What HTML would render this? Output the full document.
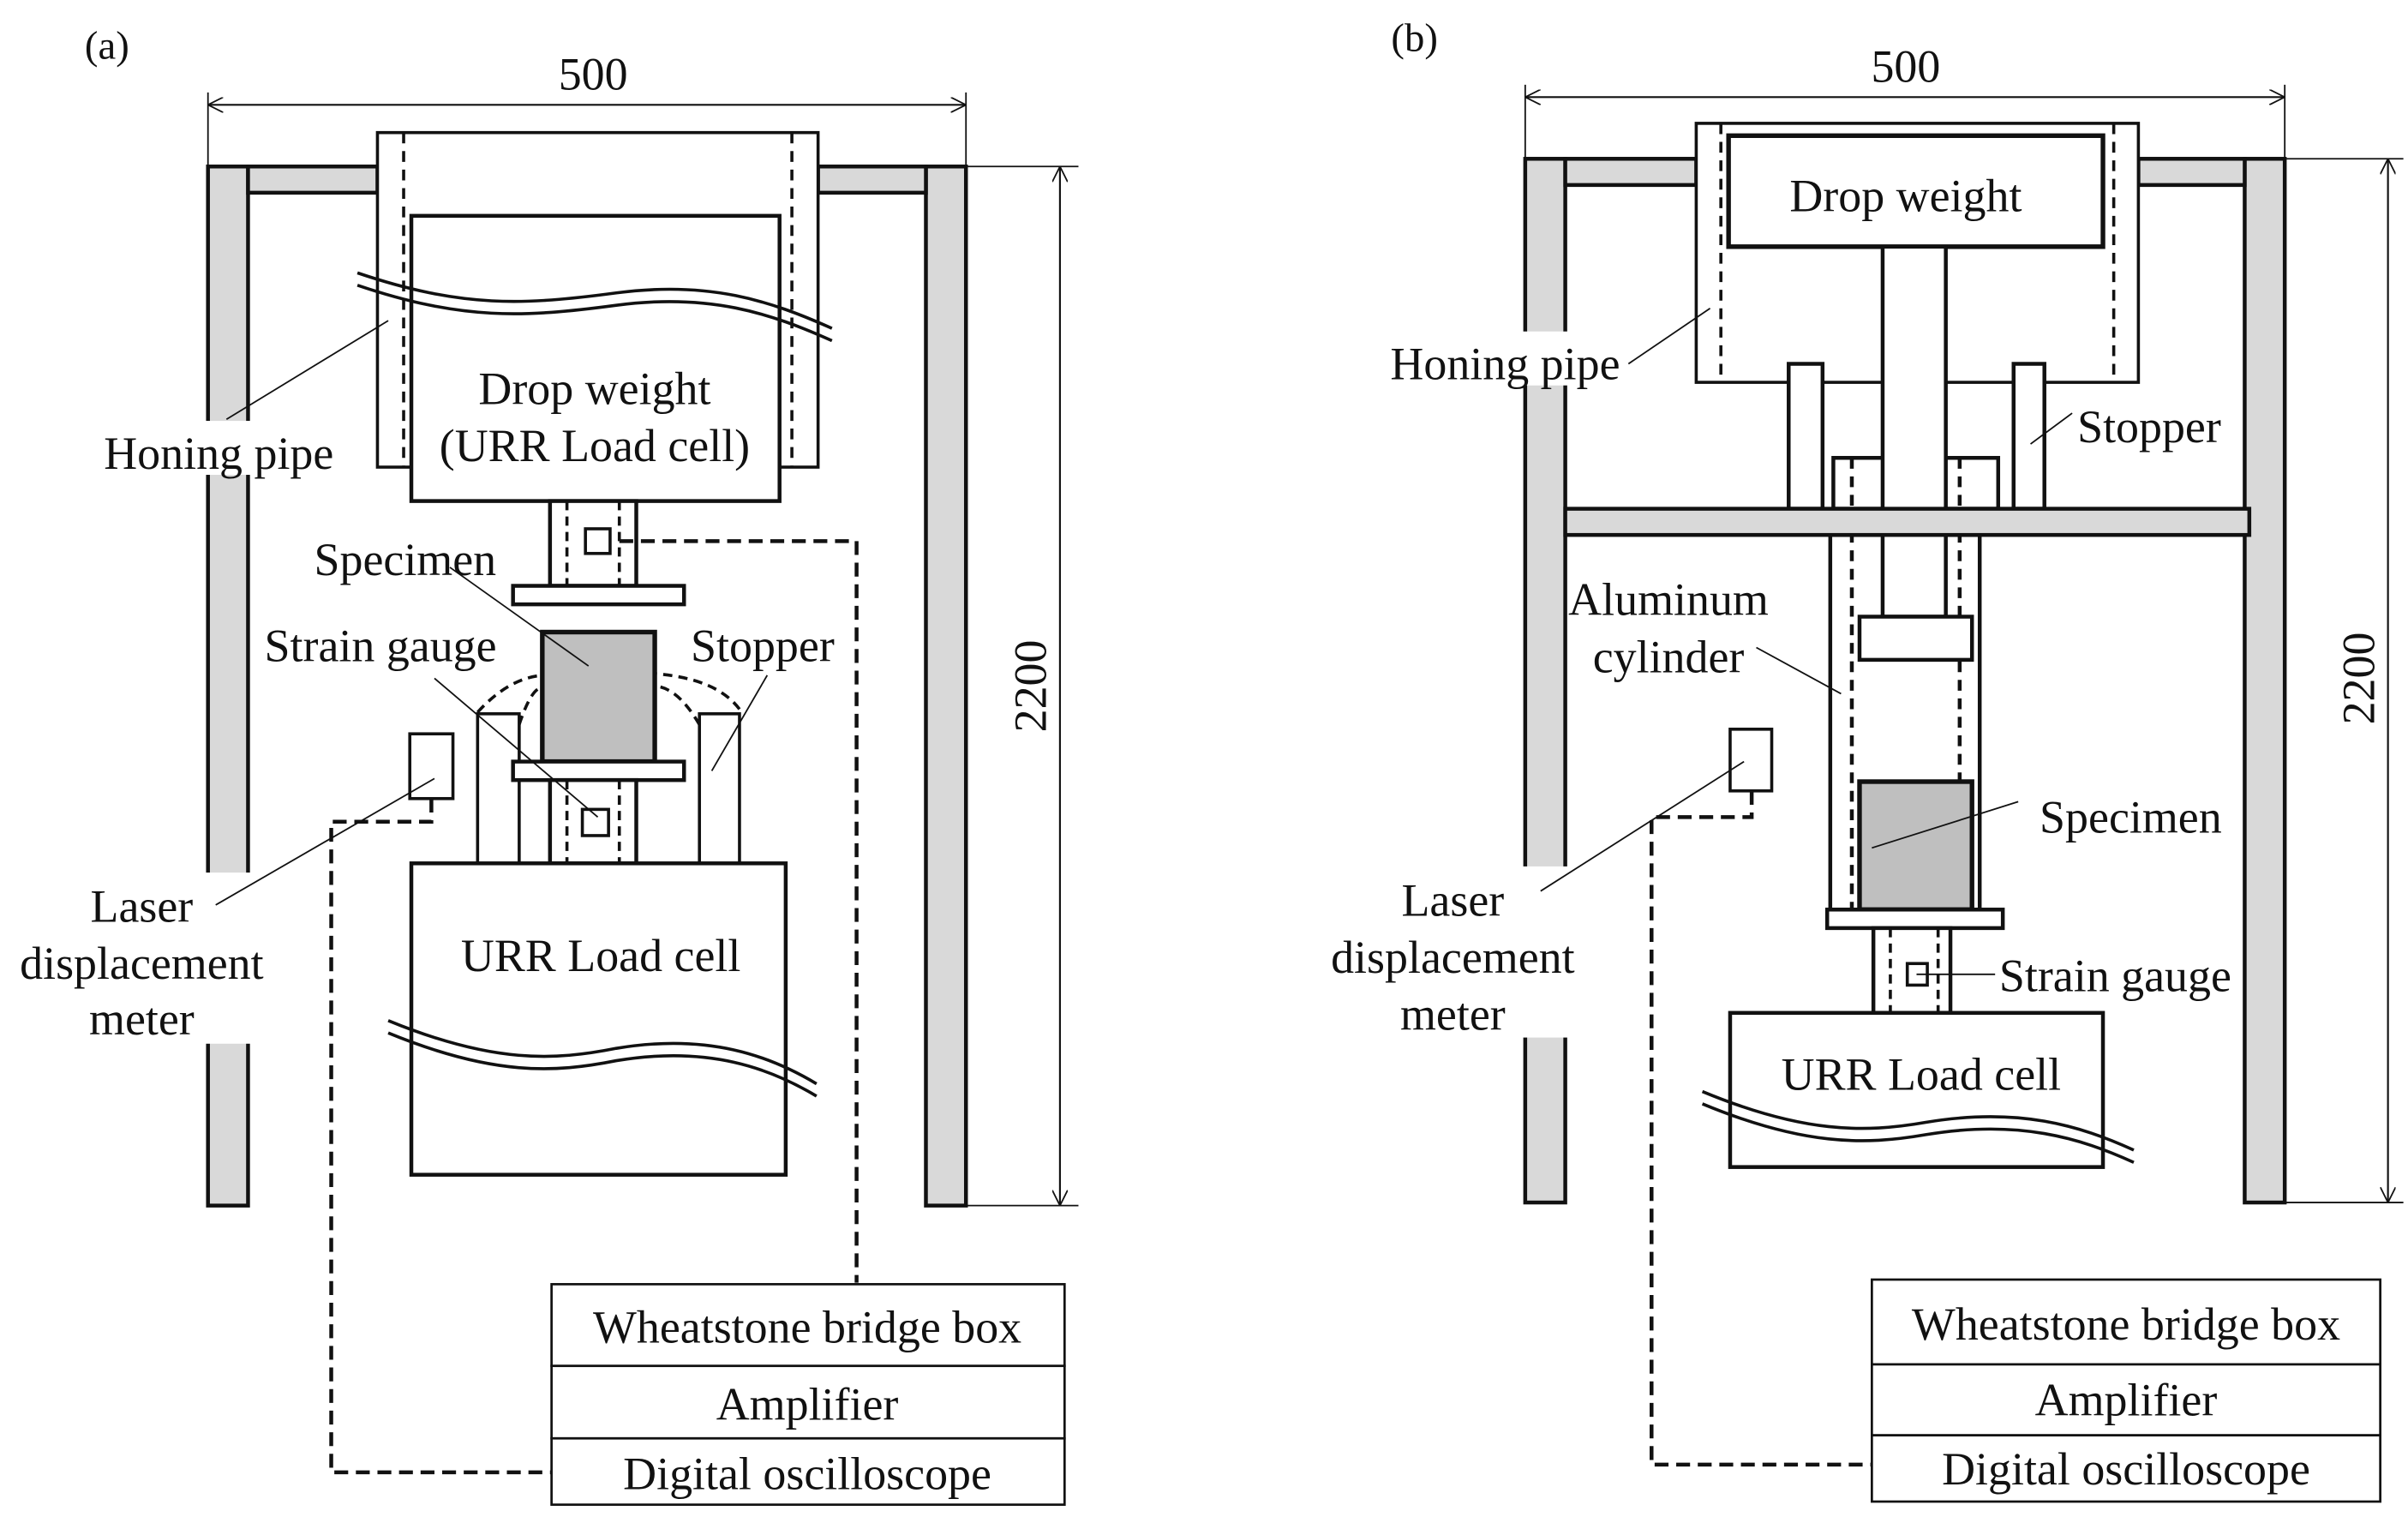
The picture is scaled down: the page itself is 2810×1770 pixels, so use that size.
<!DOCTYPE html>
<html><head><meta charset="utf-8"><style>html,body{margin:0;padding:0;background:#fff}svg{display:block}text{font-family:"Liberation Serif",serif;fill:#111}</style></head><body>
<svg width="2810" height="1770" viewBox="0 0 1563 984" preserveAspectRatio="none" xmlns="http://www.w3.org/2000/svg">
<defs><marker id="ar" viewBox="0 0 10 10" refX="10" refY="5" markerWidth="10" markerHeight="10" orient="auto-start-reverse" markerUnits="userSpaceOnUse"><path d="M0,0 L10,5 L0,10" fill="none" stroke="#111" stroke-width="1"/></marker></defs>
<g stroke="#111" stroke-width="2.5" fill="#fff" font-size="30">
<!-- PANEL A -->
<text x="55" y="38" stroke="none" font-size="26">(a)</text>
<line x1="135" y1="60" x2="135" y2="108" stroke-width="1"/><line x1="627" y1="60" x2="627" y2="108" stroke-width="1"/>
<line x1="135" y1="68" x2="627" y2="68" stroke-width="1.2" marker-start="url(#ar)" marker-end="url(#ar)"/>
<text x="385" y="58" text-anchor="middle" stroke="none">500</text>
<rect x="135" y="108" width="26" height="674" fill="#d9d9d9"/>
<rect x="601" y="108" width="26" height="674" fill="#d9d9d9"/>
<rect x="161" y="108" width="84" height="17" fill="#d9d9d9"/>
<rect x="531" y="108" width="70" height="17" fill="#d9d9d9"/>
<line x1="627" y1="108" x2="700" y2="108" stroke-width="1"/><line x1="627" y1="782" x2="700" y2="782" stroke-width="1"/>
<line x1="688" y1="108" x2="688" y2="782" stroke-width="1.2" marker-start="url(#ar)" marker-end="url(#ar)"/>
<text transform="translate(679,445) rotate(-90)" text-anchor="middle" stroke="none">2200</text>
<rect x="245" y="86" width="286" height="217" stroke-width="2"/>
<line x1="262" y1="86" x2="262" y2="303" stroke-dasharray="7,5" stroke-width="2"/>
<line x1="514" y1="86" x2="514" y2="303" stroke-dasharray="7,5" stroke-width="2"/>
<rect x="267" y="140" width="239" height="185"/>
<text x="386" y="262" text-anchor="middle" stroke="none">Drop weight</text>
<text x="386" y="299" text-anchor="middle" stroke="none">(URR Load cell)</text>
<path d="M232,177 C300,200 340,198 400,190 C460,182 500,195 540,213" fill="none" stroke-width="2"/>
<path d="M232,185 C300,208 340,206 400,198 C460,190 500,203 540,221" fill="none" stroke-width="2"/>
<rect x="357" y="325" width="56" height="55"/>
<line x1="368" y1="325" x2="368" y2="380" stroke-dasharray="6,4" stroke-width="2"/>
<line x1="402" y1="325" x2="402" y2="380" stroke-dasharray="6,4" stroke-width="2"/>
<rect x="380" y="343" width="16" height="16" stroke-width="2"/>
<path d="M402,351 L556,351 L556,832" fill="none" stroke-dasharray="9,5"/>
<rect x="333" y="380" width="111" height="12"/>
<path d="M310,462 Q330,440 352,438 M337,470 Q345,446 352,446 M454,470 Q440,446 425,445 M480,460 Q465,440 425,437" fill="none" stroke-dasharray="6,4" stroke-width="2"/>
<rect x="310" y="463" width="27" height="97" stroke-width="2"/>
<rect x="454" y="463" width="26" height="97" stroke-width="2"/>
<rect x="352" y="410" width="73" height="84" fill="#bfbfbf" stroke-width="3"/>
<rect x="333" y="494" width="111" height="12"/>
<rect x="357" y="506" width="56" height="54"/>
<line x1="368" y1="506" x2="368" y2="560" stroke-dasharray="6,4" stroke-width="2"/>
<line x1="402" y1="506" x2="402" y2="560" stroke-dasharray="6,4" stroke-width="2"/>
<rect x="378" y="525" width="17" height="17" stroke-width="2"/>
<rect x="267" y="560" width="243" height="202"/>
<text x="390" y="630" text-anchor="middle" stroke="none">URR Load cell</text>
<path d="M252,662 C320,690 360,688 400,680 C460,670 500,685 530,703" fill="none" stroke-width="2"/>
<path d="M252,670 C320,698 360,696 400,688 C460,678 500,693 530,711" fill="none" stroke-width="2"/>
<rect x="266" y="476" width="28" height="42" stroke-width="2"/>
<path d="M280,518 L280,533 L215,533 L215,955 L358,955" fill="none" stroke-dasharray="9,5"/>
<rect x="358" y="833" width="333" height="53" stroke-width="1.5"/>
<rect x="358" y="886" width="333" height="47" stroke-width="1.5"/>
<rect x="358" y="933" width="333" height="43" stroke-width="1.5"/>
<text x="524" y="871" text-anchor="middle" stroke="none">Wheatstone bridge box</text>
<text x="524" y="921" text-anchor="middle" stroke="none">Amplifier</text>
<text x="524" y="966" text-anchor="middle" stroke="none">Digital oscilloscope</text>
<rect x="4" y="566" width="173" height="111" stroke="none" fill="#fff"/>
<rect x="64" y="273" width="157" height="35" stroke="none" fill="#fff"/>
<g stroke-width="1" fill="none"><line x1="147" y1="272" x2="252" y2="208"/><line x1="292" y1="368" x2="382" y2="432"/><line x1="282" y1="440" x2="388" y2="530"/><line x1="498" y1="438" x2="462" y2="500"/><line x1="140" y1="587" x2="282" y2="505"/></g>
<g stroke="none"><text x="142" y="304" text-anchor="middle">Honing pipe</text><text x="263" y="373" text-anchor="middle">Specimen</text><text x="247" y="429" text-anchor="middle">Strain gauge</text><text x="495" y="429" text-anchor="middle">Stopper</text>
<text x="92" y="598" text-anchor="middle">Laser</text><text x="92" y="635" text-anchor="middle">displacement</text><text x="92" y="671" text-anchor="middle">meter</text></g>
<!-- PANEL B -->
<text x="903" y="33" stroke="none" font-size="26">(b)</text>
<line x1="990" y1="55" x2="990" y2="103" stroke-width="1"/><line x1="1483" y1="55" x2="1483" y2="103" stroke-width="1"/>
<line x1="990" y1="63" x2="1483" y2="63" stroke-width="1.2" marker-start="url(#ar)" marker-end="url(#ar)"/>
<text x="1237" y="53" text-anchor="middle" stroke="none">500</text>
<rect x="990" y="103" width="26" height="677" fill="#d9d9d9"/>
<rect x="1457" y="103" width="26" height="677" fill="#d9d9d9"/>
<rect x="1016" y="103" width="85" height="17" fill="#d9d9d9"/>
<rect x="1388" y="103" width="69" height="17" fill="#d9d9d9"/>
<line x1="1483" y1="103" x2="1560" y2="103" stroke-width="1"/><line x1="1483" y1="780" x2="1560" y2="780" stroke-width="1"/>
<line x1="1550" y1="103" x2="1550" y2="780" stroke-width="1.2" marker-start="url(#ar)" marker-end="url(#ar)"/>
<text transform="translate(1541,440) rotate(-90)" text-anchor="middle" stroke="none">2200</text>
<rect x="1101" y="80" width="287" height="168" stroke-width="2"/>
<line x1="1117" y1="80" x2="1117" y2="248" stroke-dasharray="7,5" stroke-width="2"/>
<line x1="1372" y1="80" x2="1372" y2="248" stroke-dasharray="7,5" stroke-width="2"/>
<rect x="1122" y="88" width="243" height="72" stroke-width="3"/>
<text x="1237" y="137" text-anchor="middle" stroke="none">Drop weight</text>
<rect x="1161" y="236" width="22" height="94"/>
<rect x="1307" y="236" width="20" height="94"/>
<rect x="1190" y="297" width="107" height="33"/>
<rect x="1188" y="347" width="97" height="243"/>
<line x1="1202" y1="297" x2="1202" y2="590" stroke-dasharray="7,5"/>
<line x1="1272" y1="297" x2="1272" y2="590" stroke-dasharray="7,5"/>
<rect x="1222" y="160" width="41" height="240"/>
<rect x="1016" y="330" width="444" height="17" fill="#d9d9d9"/>
<rect x="1207" y="400" width="73" height="28"/>
<rect x="1207" y="507" width="73" height="83" fill="#bfbfbf" stroke-width="3"/>
<rect x="1186" y="590" width="114" height="12"/>
<rect x="1216" y="602" width="50" height="55"/>
<line x1="1227" y1="602" x2="1227" y2="657" stroke-dasharray="6,4" stroke-width="2"/>
<line x1="1258" y1="602" x2="1258" y2="657" stroke-dasharray="6,4" stroke-width="2"/>
<rect x="1238" y="625" width="13" height="14" stroke-width="2"/>
<rect x="1123" y="657" width="242" height="100"/>
<text x="1247" y="707" text-anchor="middle" stroke="none">URR Load cell</text>
<path d="M1105,708 C1170,735 1210,735 1250,728 C1310,718 1350,730 1385,746" fill="none" stroke-width="2"/>
<path d="M1105,716 C1170,743 1210,743 1250,736 C1310,726 1350,738 1385,754" fill="none" stroke-width="2"/>
<rect x="1123" y="473" width="27" height="40" stroke-width="2"/>
<path d="M1137,513 L1137,530 L1072,530 L1072,950 L1215,950" fill="none" stroke-dasharray="9,5"/>
<rect x="1215" y="830" width="330" height="55" stroke-width="1.5"/>
<rect x="1215" y="885" width="330" height="46" stroke-width="1.5"/>
<rect x="1215" y="931" width="330" height="43" stroke-width="1.5"/>
<text x="1380" y="869" text-anchor="middle" stroke="none">Wheatstone bridge box</text>
<text x="1380" y="918" text-anchor="middle" stroke="none">Amplifier</text>
<text x="1380" y="963" text-anchor="middle" stroke="none">Digital oscilloscope</text>
<rect x="855" y="562" width="174" height="111" stroke="none" fill="#fff"/>
<rect x="898" y="215" width="157" height="35" stroke="none" fill="#fff"/>
<g stroke-width="1" fill="none"><line x1="1057" y1="236" x2="1110" y2="200"/><line x1="1345" y1="268" x2="1318" y2="288"/><line x1="1140" y1="420" x2="1195" y2="450"/><line x1="1310" y1="520" x2="1215" y2="550"/><line x1="1295" y1="632" x2="1244" y2="632"/><line x1="1000" y1="578" x2="1132" y2="494"/></g>
<g stroke="none"><text x="977" y="246" text-anchor="middle">Honing pipe</text><text x="1395" y="287" text-anchor="middle">Stopper</text><text x="1083" y="399" text-anchor="middle">Aluminum</text><text x="1083" y="436" text-anchor="middle">cylinder</text>
<text x="1383" y="540" text-anchor="middle">Specimen</text><text x="1373" y="643" text-anchor="middle">Strain gauge</text>
<text x="943" y="594" text-anchor="middle">Laser</text><text x="943" y="631" text-anchor="middle">displacement</text><text x="943" y="668" text-anchor="middle">meter</text></g>
</g>
</svg>
</body></html>
